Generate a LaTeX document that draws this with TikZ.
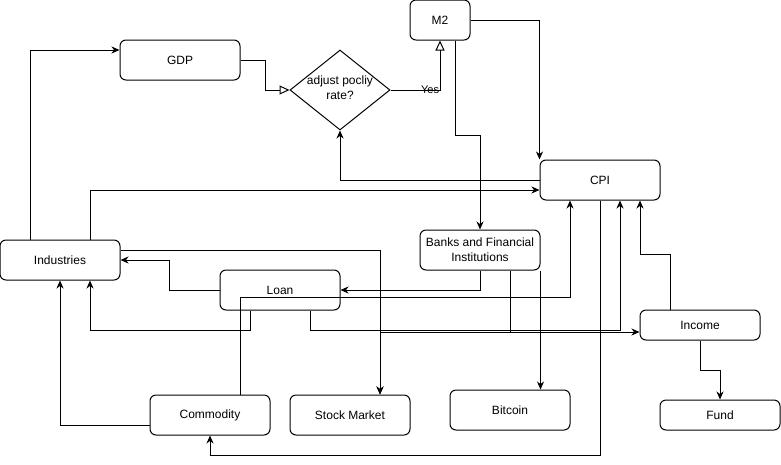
\documentclass[tikz,border=0pt]{standalone}
\usepackage{fontspec}
\setmainfont{Liberation Sans}
\usetikzlibrary{arrows.meta,shapes.geometric,calc}
\tikzset{
  box/.style={draw, rounded corners=6pt, minimum width=120pt, minimum height=40pt, inner sep=0pt, line width=1pt, font=\fontsize{12}{15}\selectfont, align=center},
  arr/.style={line width=1pt, -{Stealth[length=8pt,width=7pt,inset=2.5pt]}},
  openarr/.style={line width=1pt, -{Triangle[open,length=10pt,width=9pt]}},
  lbl/.style={font=\fontsize{11}{13}\selectfont, inner sep=0pt}
}
\begin{document}
\begin{tikzpicture}[x=1pt,y=-1pt]
\useasboundingbox (0,0) rectangle (781,464);
% nodes
\node[box] (GDP) at (180,60) {GDP};
\node[draw, diamond, line width=1pt, minimum width=100pt, minimum height=80pt, inner sep=0pt] (dec) at (340,90) {};
\node[font=\fontsize{12}{15}\selectfont, align=center] (dect) at (340,88) {adjust pocliy\\rate?};
\node[box, minimum width=60pt] (M2) at (440,20) {M2};
\node[box] (CPI) at (600,180) {CPI};
\node[box] (Ind) at (60,260) {Industries};
\node[box] (Loan) at (280,290) {Loan};
\node[box] (Banks) at (480,250) {Banks and Financial\\Institutions};
\node[box, minimum height=30pt] (Income) at (700,325) {Income};
\node[box, minimum height=30pt] (Fund) at (720,415) {Fund};
\node[box] (Comm) at (210,415) {Commodity};
\node[box] (Stock) at (350,415) {Stock Market};
\node[box] (Bit) at (510,410) {Bitcoin};
% connectors
\draw[arr] ($(Ind.east)+(0,-10)$) -- ++(260,0) |- ($(Income.west)+(0,7)$);
\draw[arr] ($(Comm.north)+(30,0)$) -- ++(0,-97.5) -| ($(CPI.south)+(-30,0)$);
\draw[openarr] (GDP.east) -- ++(25,0) |- (dec.west);
\draw[openarr] (dec.east) -| node[lbl, pos=0.4] {Yes} (M2.south);
\draw[arr] (M2.east) -| (CPI.north west);
\draw[arr] ($(M2.south)+(15,0)$) -- ++(0,95) -| (Banks.north);
\draw[arr] (CPI.west) -| (dec.south);
\draw[arr] ($(Ind.north)+(30,0)$) |- ($(CPI.west)+(0,10)$);
\draw[arr] ($(Ind.north)+(-30,0)$) |- ($(GDP.west)+(0,-10)$);
\draw[arr] (Loan.west) -- ++(-50,0) |- (Ind.east);
\draw[arr] ($(Ind.east)+(0,-10)$) -| ($(Stock.north)+(30,0)$);
\draw[arr] (Banks.south) |- (Loan.east);
\draw[arr] ($(Loan.south)+(-30,0)$) -- ++(0,20) -| ($(Ind.south)+(30,0)$);
\draw[arr] ($(Loan.south)+(30,0)$) -- ++(0,20) -| ($(CPI.south)+(20,0)$);
\draw[arr] ($(Banks.south)+(30,0)$) -- ++(0,62) -| ($(Stock.north)+(30,0)$);
\draw[arr] (CPI.south) -- ++(0,255) -| (Comm.south);
\draw[arr] (Banks.south east) -- (Banks.south east |- Bit.north);
\draw[arr] ($(Income.north)+(-30,0)$) -- ++(0,-55) -| ($(CPI.south)+(40,0)$);
\draw[arr] (Income.south) -- ++(0,30) -| (Fund.north);
\draw[arr] ($(Comm.west)+(0,10)$) -| (Ind.south);
\end{tikzpicture}
\end{document}
